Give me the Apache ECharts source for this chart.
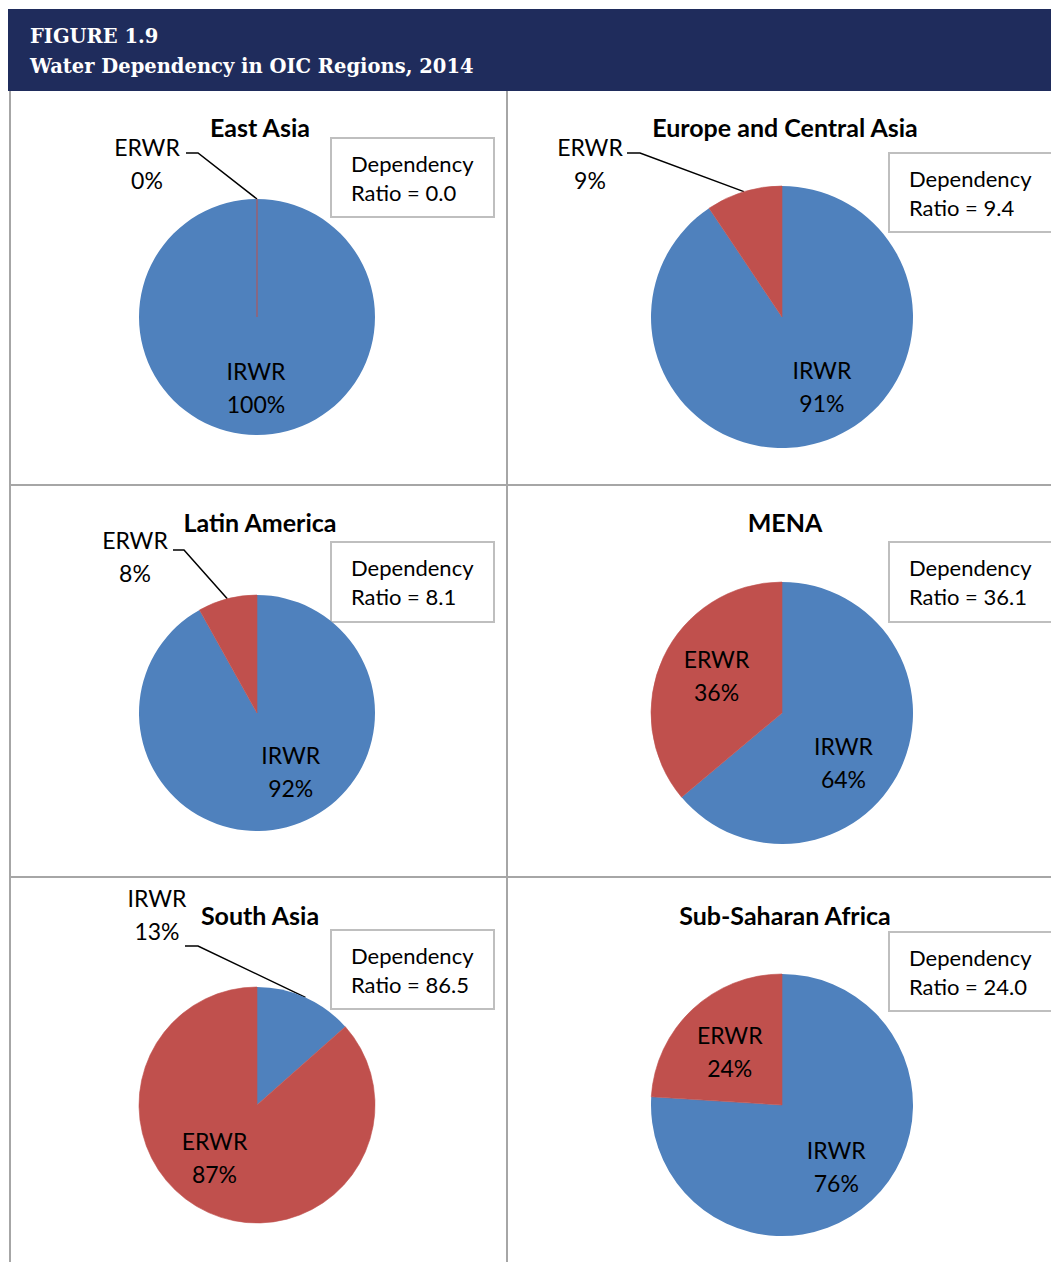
<!DOCTYPE html>
<html>
<head>
<meta charset="utf-8">
<title>Water Dependency in OIC Regions, 2014</title>
<script src="https://cdn.jsdelivr.net/npm/echarts@6/dist/echarts.min.js"></script>
<style>
  html, body { margin: 0; padding: 0; background: #fff; }
  .page { position: relative; width: 1051px; height: 1262px; overflow: hidden; }
  .header {
    position: absolute; left: 8px; top: 9px; width: 1043px; height: 82px;
    box-sizing: border-box; padding: 13px 0 0 22px;
    background: #1f2c5c; color: #fff;
    font-family: 'DejaVu Serif', serif; font-weight: bold; font-size: 19.5px; line-height: 30px;
    z-index: 2;
  }
  #chart { position: absolute; left: 0; top: 0; width: 1051px; height: 1262px; }
</style>
</head>
<body>
<div class="page">
  <div class="header">FIGURE 1.9<br>Water Dependency in OIC Regions, 2014</div>
  <div id="chart"></div>
</div>
<script>
// data
const regions = ['East Asia', 'Europe and Central Asia', 'Latin America', 'MENA', 'South Asia', 'Sub-Saharan Africa'];
const sliceNames = ['IRWR', 'ERWR'];
const irwrShare = [100, 90.6, 91.9, 63.9, 13.46, 76.0];
const erwrShare = [0, 9.4, 8.1, 36.1, 86.54, 24.0];
const dependencyRatio = [0.0, 9.4, 8.1, 36.1, 86.5, 24.0];

const BLUE = '#4f81bd';
const RED = '#c0504d';
const FONT = 'Lato';
const SMALL = 15; // slices under this share get an outside callout

// panel layout: pie centre + radius, title position, ratio box [x, y, w, h],
// callout = [label dx, label dy, elbow dx, end dx, line dy] relative to pie centre
// nudge = small shifts for the inside labels [IRWR, ERWR]
const panels = [
  { cx: 257, cy: 317, r: 118, tx: 260, ty: 127, box: [331, 138, 163, 79], callout: [-110, -154, -59, -71, -164], nudge: [[-1, -4], [0, 0]] },
  { cx: 782, cy: 317, r: 131, tx: 785, ty: 127, box: [889, 153, 175, 79], callout: [-192, -154, -142, -155, -164], nudge: [[16, -9], [0, 0]] },
  { cx: 257, cy: 713, r: 118, tx: 260, ty: 522, box: [331, 542, 163, 80], callout: [-122, -157, -73, -84, -163], nudge: [[15, -14], [0, 0]] },
  { cx: 782, cy: 713, r: 131, tx: 785, ty: 522, box: [889, 542, 175, 80], callout: [0, 0, 0, 0, 0], nudge: [[-13, 15], [9, -3]] },
  { cx: 257, cy: 1105, r: 118, tx: 260, ty: 915, box: [331, 930, 163, 79], callout: [-100, -191, -59, -72, -159], nudge: [[0, 0], [-12, -15]] },
  { cx: 782, cy: 1105, r: 131, tx: 785, ty: 915, box: [889, 932, 175, 79], callout: [0, 0, 0, 0, 0], nudge: [[-2, 2], [4, 6]] }
];

const chart = echarts.init(document.getElementById('chart'), null, { renderer: 'svg' });

const graphics = [];
// frame lines
const frame = { stroke: '#a6a6a6', lineWidth: 2 };
[[10, 91, 10, 1262], [507, 91, 507, 1262], [10, 485, 1051, 485], [10, 877, 1051, 877]].forEach(l => {
  graphics.push({ type: 'line', silent: true, shape: { x1: l[0], y1: l[1], x2: l[2], y2: l[3] }, style: frame });
});

panels.forEach((p, i) => {
  graphics.push({
    type: 'text', silent: true, x: p.tx, y: p.ty,
    style: { text: regions[i], fill: '#000', font: 'bold 25px ' + FONT, align: 'center', verticalAlign: 'middle' }
  });
  graphics.push({
    type: 'rect', silent: true,
    shape: { x: p.box[0], y: p.box[1], width: p.box[2], height: p.box[3] },
    style: { fill: '#fff', stroke: '#bfbfbf', lineWidth: 2 }
  });
  graphics.push({
    type: 'text', silent: true, x: p.box[0] + 20, y: p.box[1] + p.box[3] / 2,
    style: {
      text: 'Dependency\nRatio = ' + dependencyRatio[i].toFixed(1),
      fill: '#000', font: '22px ' + FONT, lineHeight: 29, align: 'left', verticalAlign: 'middle'
    }
  });
});

const series = panels.map((p, i) => {
  const shares = [irwrShare[i], erwrShare[i]];
  return {
    type: 'pie',
    center: [p.cx, p.cy],
    radius: p.r,
    startAngle: 90,
    clockwise: true,
    silent: true,
    avoidLabelOverlap: false,
    data: sliceNames.map((n, k) => ({
      name: n,
      value: shares[k],
      // the red outline keeps a zero slice visible as a hairline, as in the original
      itemStyle: n === 'IRWR' ? { color: BLUE } : { color: RED, borderColor: RED, borderWidth: 0.6 },
      label: { position: shares[k] < SMALL ? 'outside' : 'inside' },
      labelLine: { show: shares[k] < SMALL }
    })),
    label: {
      color: '#000', fontFamily: FONT, fontSize: 23, lineHeight: 33,
      formatter: d => d.name + '\n' + Math.round(d.percent) + '%'
    },
    labelLine: { length: 10, length2: 10, lineStyle: { color: '#000', width: 1.5 } },
    labelLayout: function (params) {
      const lr = params.labelRect;
      const lx = lr.x + lr.width / 2;
      const ly = lr.y + lr.height / 2;
      if (shares[params.dataIndex] >= SMALL) {
        // push inside labels out a bit, like the original
        const nd = p.nudge[params.dataIndex];
        return {
          x: p.cx + (lx - p.cx) * 1.2 + nd[0], y: p.cy + (ly - p.cy) * 1.2 + nd[1],
          align: 'center', verticalAlign: 'middle'
        };
      }
      const c = p.callout;
      const anchor = params.labelLinePoints ? params.labelLinePoints[0] : [p.cx, p.cy - p.r];
      return {
        x: p.cx + c[0], y: p.cy + c[1], align: 'center', verticalAlign: 'middle',
        labelLinePoints: [anchor, [p.cx + c[2], p.cy + c[4]], [p.cx + c[3], p.cy + c[4]]]
      };
    }
  };
});

chart.setOption({
  animation: false,
  backgroundColor: '#fff',
  graphic: graphics,
  series: series
});
</script>
</body>
</html>
